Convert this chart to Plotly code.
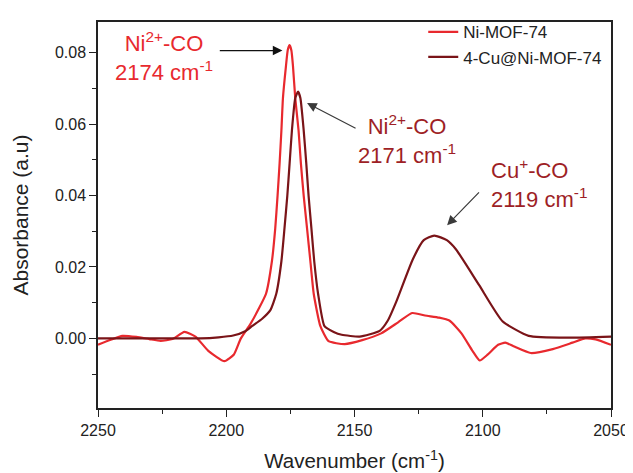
import plotly.graph_objects as go

# Ni-MOF-74 spectrum
ni_wn = [2250, 2245, 2240.5, 2235, 2230, 2225.6, 2221, 2216.3, 2212, 2207, 2200.7, 2197,
         2194.3, 2190.6, 2187.4, 2184.5, 2182.2, 2180.9, 2180.0, 2179.2, 2178.5, 2177.9,
         2176.7, 2176.0, 2175.3, 2174.6, 2174.0, 2173.1, 2171.8, 2170.9, 2169.8, 2168.5,
         2167.2, 2165.9, 2163.3, 2160.1, 2153.8, 2147, 2139.6, 2133, 2127.5, 2122.5, 2117,
         2113, 2108.3, 2104, 2101.2, 2098, 2094, 2091.2, 2088, 2081.3, 2072.7, 2065, 2060,
         2056, 2050]
ni_abs = [-0.0018, -0.0004, 0.0007, 0.0004, -0.0002, -0.0007, -0.0002, 0.0018, 0.0005, -0.0035,
          -0.0064, -0.0045, 0.0, 0.0040, 0.0082, 0.0125, 0.0216, 0.0308, 0.0399, 0.0490,
          0.0582, 0.0673, 0.0764, 0.0808, 0.0821, 0.0806, 0.0764, 0.0673, 0.0582, 0.0490,
          0.0399, 0.0308, 0.0216, 0.0125, 0.0034, -0.0008, -0.0016, -0.0005, 0.0014, 0.0045,
          0.0071, 0.0064, 0.0058, 0.0050, 0.0014, -0.0035, -0.0062, -0.0045, -0.0018, -0.0012,
          -0.0022, -0.0041, -0.0030, -0.0012, 0.0, -0.0003, -0.0018]

# 4-Cu@Ni-MOF-74 spectrum
cu_wn = [2250, 2230, 2210, 2203, 2197.3, 2192.6, 2190.0, 2186, 2182.8, 2180.5, 2178.5,
         2177.3, 2176.2, 2175.3, 2174.4, 2173.1, 2172.0, 2171.1, 2169.8, 2168.8, 2167.9,
         2166.8, 2165.7, 2164.2, 2161.7, 2158.1, 2155, 2148, 2140.2, 2137, 2133.7, 2127.3,
         2123, 2118.9, 2114, 2110.4, 2101.4, 2092.3, 2082.1, 2066.4, 2050]
cu_abs = [0.0, 0.0, 0.0, 0.0003, 0.0008, 0.0020, 0.0034, 0.0055, 0.0079, 0.0125, 0.0216,
          0.0308, 0.0399, 0.0490, 0.0582, 0.0673, 0.0691, 0.0673, 0.0582, 0.0490, 0.0399,
          0.0308, 0.0216, 0.0125, 0.0034, 0.0018, 0.0010, 0.0005, 0.0021, 0.0050, 0.0103,
          0.0221, 0.0275, 0.0288, 0.0275, 0.0249, 0.0149, 0.0048, 0.0007, 0.0002, 0.0005]

series_names = ["Ni-MOF-74", "4-Cu@Ni-MOF-74"]
x_ticks = [2250, 2200, 2150, 2100, 2050]
y_ticks = [0.00, 0.02, 0.04, 0.06, 0.08]

RED = "#e8292e"
DARK = "#7a1418"
DARK_TXT = "#9e1f26"
FONT = "Liberation Sans, Arial, sans-serif"

fig = go.Figure()
fig.add_trace(go.Scatter(x=ni_wn, y=ni_abs, mode="lines", name=series_names[0],
                         line=dict(color=RED, width=2.2, shape="spline", smoothing=0.5)))
fig.add_trace(go.Scatter(x=cu_wn, y=cu_abs, mode="lines", name=series_names[1],
                         line=dict(color=DARK, width=2.2, shape="spline", smoothing=0.5)))

# arrows
arrows = [
    (2178.1, 0.0806, 2203.1, 0.0806, "#111111"),
    (2168.5, 0.0659, 2149.0, 0.0586, "#3a3a3a"),
    (2113.9, 0.0317, 2100.9, 0.0413, "#3a3a3a"),
]
for hx, hy, tx, ty, c in arrows:
    fig.add_annotation(x=hx, y=hy, ax=tx, ay=ty, xref="x", yref="y", axref="x", ayref="y",
                       showarrow=True, arrowhead=2, arrowsize=1.6, arrowwidth=1.2,
                       arrowcolor=c, text="")

labels = [
    (2224.3, 0.0790, "Ni<sup>2+</sup>-CO<br>2174 cm<sup>-1</sup>", RED, "center"),
    (2129.4, 0.0558, "Ni<sup>2+</sup>-CO<br>2171 cm<sup>-1</sup>", DARK_TXT, "center"),
    (2097.4, 0.0435, "Cu<sup>+</sup>-CO<br>2119 cm<sup>-1</sup>", DARK_TXT, "left"),
]
for x, y, t, c, al in labels:
    fig.add_annotation(x=x, y=y, xref="x", yref="y", text=t, showarrow=False,
                       font=dict(family=FONT, size=22, color=c), align=al,
                       xanchor=al if al != "center" else "center", yanchor="middle")

axis_common = dict(showline=True, linecolor="#222", linewidth=1.5, mirror=True,
                   ticks="outside", ticklen=7, tickwidth=1.3, tickcolor="#222",
                   showgrid=False, zeroline=False, automargin=False,
                   tickfont=dict(family=FONT, size=16, color="#222"))

fig.update_xaxes(range=[2250, 2050], tickvals=x_ticks,
                 minor=dict(ticks="outside", ticklen=4, tickwidth=1.2, tickcolor="#222", dtick=25,
                            tick0=2250),
                 title=dict(text="Wavenumber (cm<sup>-1</sup>)",
                            font=dict(family=FONT, size=20.5, color="#222"), standoff=16),
                 **axis_common)
fig.update_yaxes(range=[-0.0195, 0.0886], tickvals=y_ticks, tickformat=".2f",
                 minor=dict(ticks="outside", ticklen=4, tickwidth=1.2, tickcolor="#222", dtick=0.01,
                            tick0=0),
                 title=dict(text="Absorbance (a.u)",
                            font=dict(family=FONT, size=21, color="#222"), standoff=21),
                 **axis_common)

# page body adds an 8px offset, so the figure is sized to fit the 633x473 window
fig.update_layout(
    width=625, height=465, autosize=False,
    margin=dict(l=90, r=22, t=6, b=65),
    paper_bgcolor="white", plot_bgcolor="white",
    font=dict(family=FONT, color="#222"),
    legend=dict(x=0.634, y=1.02, xanchor="left", yanchor="top",
                bgcolor="rgba(0,0,0,0)", font=dict(family=FONT, size=17, color="#222"),
                tracegroupgap=0),
    showlegend=True,
)

fig.write_html("out.html")
